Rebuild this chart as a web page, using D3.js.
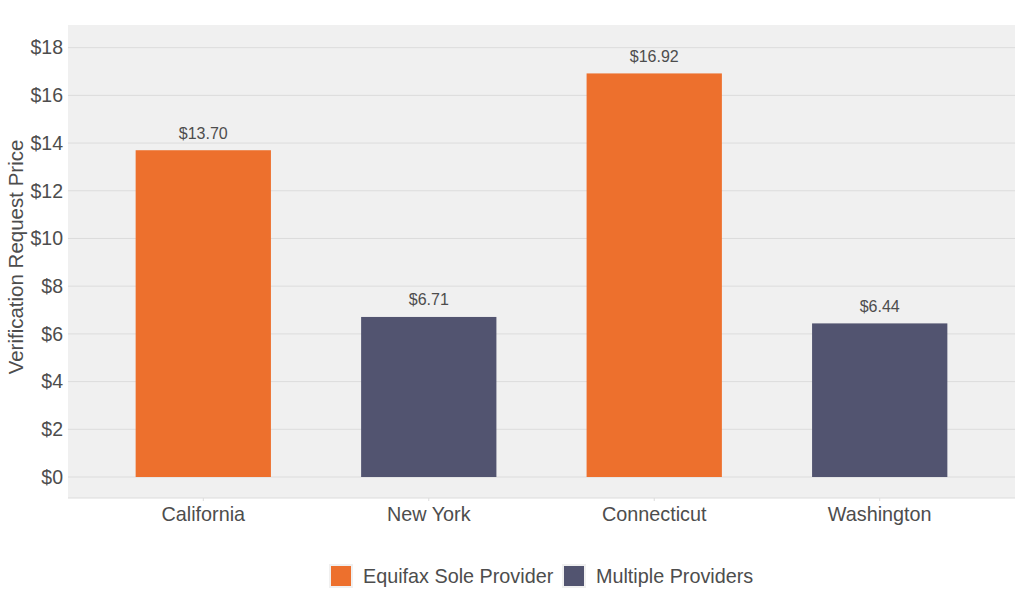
<!DOCTYPE html>
<html>
<head>
<meta charset="utf-8">
<script src="https://cdn.jsdelivr.net/npm/d3@7"></script>
<style>
  body { margin: 0; background: #fff; }
  text { font-family: "Liberation Sans", Arial, sans-serif; }
</style>
</head>
<body>
<div id="chart"></div>
<script>
// data
var states = ["California", "New York", "Connecticut", "Washington"];
var prices = [13.70, 6.71, 16.92, 6.44];
var providerType = ["Equifax Sole Provider", "Multiple Providers", "Equifax Sole Provider", "Multiple Providers"];
var legendLabels = ["Equifax Sole Provider", "Multiple Providers"];
var legendColors = ["#ED702D", "#525470"];
var yTicks = [0, 2, 4, 6, 8, 10, 12, 14, 16, 18];

var W = 1024, H = 614;
var plot = {left: 68, right: 1015, top: 25, bottom: 498};

var svg = d3.select("#chart").append("svg")
    .attr("width", W)
    .attr("height", H);

var x = d3.scaleBand()
    .domain(states)
    .range([plot.left, plot.right])
    .paddingInner(0.4)
    .paddingOuter(0.3);

var y = d3.scaleLinear()
    .domain([-0.88, 18.95])
    .range([plot.bottom, plot.top]);

var color = d3.scaleOrdinal().domain(legendLabels).range(legendColors);

// panel background
svg.append("rect")
    .attr("x", plot.left)
    .attr("y", plot.top)
    .attr("width", plot.right - plot.left)
    .attr("height", plot.bottom - plot.top)
    .attr("fill", "#F0F0F0");

// gridlines
svg.append("g")
    .selectAll("line")
    .data(yTicks)
    .enter().append("line")
    .attr("x1", plot.left)
    .attr("x2", plot.right)
    .attr("y1", function(d) { return y(d); })
    .attr("y2", function(d) { return y(d); })
    .attr("stroke", "#DCDCDC")
    .attr("stroke-width", 1);

// bottom border of panel
svg.append("line")
    .attr("x1", plot.left).attr("x2", plot.right)
    .attr("y1", plot.bottom).attr("y2", plot.bottom)
    .attr("stroke", "#DCDCDC");

// y axis
var yAxis = svg.append("g")
    .attr("transform", "translate(" + plot.left + ",0)")
    .call(d3.axisLeft(y).tickValues(yTicks).tickSize(0).tickPadding(5)
        .tickFormat(function(d) { return "$" + d; }));
yAxis.select(".domain").remove();
yAxis.selectAll("text")
    .attr("font-size", 19.5)
    .attr("fill", "#4D4D4D")
    .attr("font-family", "Liberation Sans, Arial, sans-serif");

// x axis
var xAxis = svg.append("g")
    .attr("transform", "translate(0," + plot.bottom + ")")
    .call(d3.axisBottom(x).tickSize(3).tickPadding(6));
xAxis.select(".domain").remove();
xAxis.selectAll("line").attr("stroke", "#DCDCDC");
xAxis.selectAll("text")
    .attr("font-size", 19.8)
    .attr("fill", "#4D4D4D")
    .attr("font-family", "Liberation Sans, Arial, sans-serif");

// y axis title
svg.append("text")
    .attr("transform", "translate(23,257) rotate(-90)")
    .attr("text-anchor", "middle")
    .attr("font-size", 20.5)
    .attr("fill", "#4D4D4D")
    .text("Verification Request Price");

// bars
svg.append("g")
    .selectAll("rect")
    .data(states)
    .enter().append("rect")
    .attr("x", function(d) { return x(d); })
    .attr("width", x.bandwidth())
    .attr("y", function(d, i) { return y(prices[i]); })
    .attr("height", function(d, i) { return y(0) - y(prices[i]); })
    .attr("fill", function(d, i) { return color(providerType[i]); });

// value labels
svg.append("g")
    .selectAll("text")
    .data(states)
    .enter().append("text")
    .attr("x", function(d) { return x(d) + x.bandwidth() / 2; })
    .attr("y", function(d, i) { return y(prices[i]) - 11.5; })
    .attr("text-anchor", "middle")
    .attr("font-size", 16)
    .attr("fill", "#4D4D4D")
    .text(function(d, i) { return "$" + prices[i].toFixed(2); });

// legend
var legend = svg.append("g");
var legendX = [329, 562];
legendLabels.forEach(function(lab, i) {
    var g = legend.append("g").attr("transform", "translate(" + legendX[i] + ",564)");
    g.append("rect")
        .attr("width", 24).attr("height", 24)
        .attr("fill", "#F0F0F0");
    g.append("rect")
        .attr("x", 2).attr("y", 2)
        .attr("width", 20).attr("height", 20)
        .attr("fill", color(lab));
    g.append("text")
        .attr("x", 34)
        .attr("y", 19)
        .attr("font-size", 19.8)
        .attr("fill", "#4D4D4D")
        .text(lab);
});
</script>
</body>
</html>
